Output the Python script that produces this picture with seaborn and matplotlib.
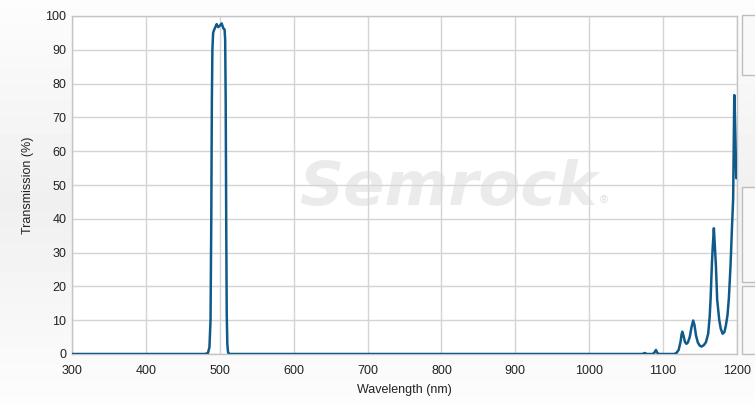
"""Semrock-style filter transmission spectrum."""

import matplotlib.pyplot as plt
import numpy as np
import pandas as pd
import seaborn as sns
from matplotlib.patches import Rectangle

# Wavelength (nm) and transmission (%)
wavelength = [
    300, 480, 484, 486, 487.5, 488.5, 489.3, 490, 491, 492.5, 494, 495.8,
    497, 498, 499, 500.5, 501.5, 502.6, 503.9, 505, 506.5, 507.3, 508,
    508.7, 509.4, 510.2, 511.2, 513,
    1072, 1075, 1078, 1086, 1088.5, 1090.3, 1092, 1094,
    1115, 1118, 1121, 1123.5, 1125, 1126, 1127.5, 1129.5, 1131.5, 1133.5,
    1136, 1138.5, 1140.7, 1142.5, 1144.5, 1147, 1149.5, 1152, 1155, 1158,
    1161, 1163, 1164.2, 1166, 1167, 1168.7, 1170, 1171.4, 1173.2, 1176,
    1178, 1180.5, 1183, 1185, 1187.2, 1189, 1191.3, 1193, 1194.8, 1195.6,
    1196.3, 1197, 1198, 1199,
]
transmission = [
    0, 0, 0.3, 2, 10, 40, 75, 90, 95, 96, 96.7, 97.6,
    97, 96.7, 97, 97.2, 97.5, 97.8, 96.9, 96.3, 96, 93, 75,
    40, 12, 3, 0.5, 0,
    0, 0.3, 0, 0, 0.5, 1.2, 0.4, 0,
    0, 0.3, 1.2, 3.5, 5.8, 6.6, 5.5, 3.6, 3.0, 3.4,
    5, 8, 9.9, 8.5, 5.5, 3.4, 2.5, 2.2, 2.6, 3.5,
    6, 11, 16, 26.4, 31, 37.2, 32, 26.4, 16, 10,
    7.5, 6, 6.5, 8.5, 11.6, 16.5, 26.4, 36.3, 46, 62,
    76.6, 72, 62, 52,
]

x_ticks = list(range(300, 1201, 100))
y_ticks = list(range(0, 101, 10))

df = pd.DataFrame({"wavelength": wavelength, "transmission": transmission})

sns.set_theme(style="whitegrid")
plt.rcParams["font.family"] = ["Liberation Sans", "DejaVu Sans"]

fig = plt.figure(figsize=(7.55, 4.05), dpi=100)

# soft vertical gradient behind everything
bg = fig.add_axes([0, 0, 1, 1], zorder=-10)
grad = np.concatenate([np.linspace(0.99, 0.94, 50), np.linspace(0.94, 0.99, 50)])
bg.imshow(grad[:, None], aspect="auto", cmap="gray", vmin=0, vmax=1,
          extent=[0, 1, 0, 1])
bg.set_axis_off()

# clipped side panel boxes on the right edge
for y0, h in [(330 / 405, 60 / 405), (123 / 405, 95 / 405), (51 / 405, 68 / 405)]:
    fig.patches.append(Rectangle((742 / 755, y0), 0.05, h, transform=fig.transFigure,
                                 facecolor="#f9f9f9", edgecolor="#bdbdbd", lw=1,
                                 zorder=-5))

ax = fig.add_axes([72 / 755, 51 / 405, 665 / 755, 338 / 405])
ax.set_facecolor("white")

sns.lineplot(data=df, x="wavelength", y="transmission", ax=ax,
             color="#0f5a8a", linewidth=1.8, zorder=3)

# watermark
ax.text(0.565, 0.49, "Semrock", transform=ax.transAxes, ha="center", va="center",
        fontsize=44, fontweight="bold", fontstyle="italic", color="#d9d9d9",
        alpha=0.5, family="DejaVu Sans", zorder=2)
ax.text(0.8, 0.455, "®", transform=ax.transAxes, ha="center", va="center",
        fontsize=8, color="#dcdcdc", zorder=2)

ax.set_xlim(300, 1200)
ax.set_ylim(0, 100)
ax.set_xticks(x_ticks)
ax.set_yticks(y_ticks)
ax.grid(True, color="#d4d4d4", linewidth=1)
for s in ax.spines.values():
    s.set_color("#c4c4c4")
    s.set_linewidth(1)
ax.tick_params(axis="both", length=0, labelsize=9, colors="#222222")
ax.tick_params(axis="x", pad=8)
ax.tick_params(axis="y", pad=4)
ax.set_xlabel("Wavelength (nm)", fontsize=9, color="#222222", labelpad=5)
ax.set_ylabel("Transmission (%)", fontsize=9, color="#222222", labelpad=8)

fig.savefig("out.png", dpi=100)
